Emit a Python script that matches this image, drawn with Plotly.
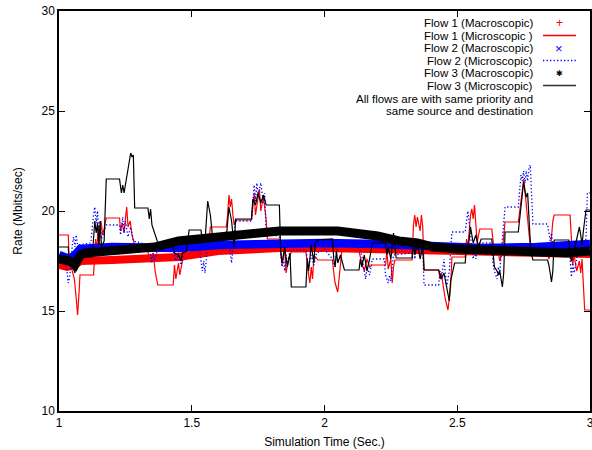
import plotly.graph_objects as go

# ---------------- data ----------------
# Macroscopic (smooth bands)
macro1_t = [1.0, 1.03, 1.06, 1.08, 1.2, 1.3, 1.45, 1.6, 1.72, 1.83, 2.0, 2.15, 2.3, 2.5, 2.7, 2.85, 3.0]
macro1_r = [17.3, 17.2, 17.3, 17.5, 17.55, 17.6, 17.7, 18.0, 18.1, 18.15, 18.15, 18.1, 18.05, 17.95, 17.9, 17.9, 17.85]

macro2_t = [1.0, 1.04, 1.06, 1.08, 1.2, 1.45, 1.6, 1.83, 2.0, 2.2, 2.4, 2.6, 2.8, 3.0]
macro2_r = [17.8, 17.6, 17.8, 18.1, 18.2, 18.15, 18.3, 18.4, 18.4, 18.35, 18.25, 18.15, 18.2, 18.35]

macro3_t = [1.0, 1.04, 1.06, 1.08, 1.1, 1.2, 1.3, 1.36, 1.45, 1.6, 1.7, 1.83, 1.95, 2.05,
            2.2, 2.28, 2.35, 2.41, 2.5, 2.66, 2.8, 2.91, 3.0]
macro3_r = [17.6, 17.5, 17.3, 17.8, 17.9, 18.0, 18.1, 18.2, 18.5, 18.7, 18.85, 19.0, 19.0, 19.0,
            18.75, 18.5, 18.4, 18.2, 18.1, 18.0, 17.95, 17.9, 18.0]

# Microscopic flow 1 (red)
micro1_t = [1.0, 1.035, 1.038, 1.05, 1.058, 1.065, 1.07, 1.075, 1.079, 1.13, 1.133, 1.138, 1.142, 1.148,
            1.152, 1.158, 1.165, 1.17, 1.178, 1.228, 1.232, 1.238, 1.245, 1.25, 1.255, 1.26, 1.268, 1.275,
            1.285, 1.3, 1.33, 1.345, 1.355, 1.362, 1.368, 1.372, 1.43, 1.435, 1.44, 1.45, 1.455, 1.465,
            1.475, 1.49, 1.55, 1.565, 1.57, 1.63, 1.635, 1.64, 1.645, 1.65, 1.655, 1.66, 1.665, 1.725,
            1.73, 1.735, 1.74, 1.75, 1.755, 1.76, 1.77, 1.78, 1.785, 1.83, 1.835, 1.84, 1.85, 1.855,
            1.865, 1.875, 1.93, 1.935, 1.94, 1.945, 1.95, 1.955, 1.96, 1.975, 2.03, 2.035, 2.04, 2.05,
            2.055, 2.06, 2.065, 2.1, 2.13, 2.14, 2.15, 2.16, 2.17, 2.18, 2.23, 2.235, 2.24, 2.25, 2.255,
            2.26, 2.265, 2.33, 2.335, 2.34, 2.345, 2.35, 2.36, 2.365, 2.37, 2.375, 2.43, 2.435, 2.44,
            2.45, 2.455, 2.465, 2.47, 2.475, 2.48, 2.53, 2.535, 2.54, 2.545, 2.55, 2.555, 2.56, 2.565,
            2.57, 2.575, 2.58, 2.585, 2.63, 2.635, 2.64, 2.65, 2.66, 2.67, 2.68, 2.73, 2.735, 2.74,
            2.745, 2.75, 2.755, 2.76, 2.765, 2.77, 2.775, 2.785, 2.84, 2.845, 2.85, 2.86, 2.865, 2.925,
            2.93, 2.935, 2.94, 2.95, 2.96, 2.965, 2.97, 2.975, 2.98, 3.0]
micro1_r = [18.8, 18.8, 17.6, 17.0, 16.6, 15.6, 14.8, 15.8, 16.8, 16.8, 17.8, 18.6, 18.0, 19.2,
            18.3, 19.5, 18.8, 19.2, 19.65, 19.65, 19.0, 19.4, 18.9, 19.6, 20.2, 19.2, 19.5, 18.8,
            18.3, 18.2, 18.1, 17.6, 17.9, 17.0, 16.6, 16.3, 16.3, 17.3, 16.6, 17.4, 16.8, 17.5,
            17.9, 18.2, 18.1, 18.5, 19.2, 19.2, 19.8, 20.8, 20.2, 20.6, 19.8, 19.3, 19.55, 19.55,
            20.2, 20.9, 19.8, 20.6, 21.1, 20.0, 20.7, 19.6, 18.6, 18.6, 17.8, 17.3, 18.1, 16.9,
            17.6, 17.95, 17.95, 17.3, 16.8, 16.4, 17.2, 16.6, 17.8, 17.55, 17.55, 16.9, 16.4, 15.95,
            16.6, 17.5, 18.0, 18.1, 18.0, 17.4, 17.0, 17.6, 17.2, 17.3, 17.3, 18.0, 17.1, 17.6, 16.4,
            17.2, 17.55, 17.55, 19.3, 19.8, 19.2, 19.7, 19.0, 19.8, 19.2, 17.05, 17.05, 16.6, 16.9,
            16.0, 15.6, 15.05, 15.5, 16.2, 17.7, 17.7, 18.6, 18.2, 19.0, 19.8, 20.1, 19.6, 20.3,
            19.2, 18.4, 18.8, 19.1, 19.1, 18.3, 17.9, 18.3, 17.5, 18.0, 19.45, 19.45, 20.1, 20.5,
            21.0, 21.6, 21.0, 20.2, 19.3, 18.9, 18.3, 18.1, 17.9, 17.6, 17.9, 19.5, 19.8, 19.8,
            18.6, 17.3, 17.8, 17.0, 17.5, 16.9, 17.6, 16.0, 15.05, 15.05]

# Microscopic flow 2 (blue dotted)
micro2_t = [1.0, 1.02, 1.03, 1.035, 1.04, 1.045, 1.05, 1.055, 1.06, 1.065, 1.07, 1.12, 1.13, 1.135,
            1.14, 1.145, 1.15, 1.155, 1.16, 1.17, 1.178, 1.228, 1.232, 1.24, 1.245, 1.25, 1.26, 1.27,
            1.28, 1.34, 1.345, 1.35, 1.355, 1.36, 1.37, 1.43, 1.44, 1.45, 1.46, 1.47, 1.49, 1.53,
            1.535, 1.54, 1.545, 1.55, 1.555, 1.56, 1.62, 1.63, 1.64, 1.645, 1.65, 1.655, 1.66, 1.665,
            1.725, 1.73, 1.735, 1.74, 1.745, 1.75, 1.76, 1.77, 1.775, 1.78, 1.83, 1.835, 1.84, 1.845,
            1.85, 1.855, 1.86, 1.87, 1.875, 1.93, 1.935, 1.94, 1.95, 1.96, 1.97, 2.0, 2.03, 2.04,
            2.045, 2.05, 2.13, 2.14, 2.15, 2.155, 2.16, 2.17, 2.18, 2.225, 2.23, 2.24, 2.245, 2.25,
            2.255, 2.26, 2.33, 2.335, 2.34, 2.35, 2.36, 2.37, 2.375, 2.43, 2.435, 2.44, 2.45, 2.46,
            2.47, 2.475, 2.48, 2.53, 2.535, 2.54, 2.545, 2.55, 2.555, 2.56, 2.565, 2.57, 2.58, 2.63,
            2.635, 2.64, 2.65, 2.655, 2.66, 2.665, 2.68, 2.73, 2.735, 2.74, 2.745, 2.75, 2.755, 2.76,
            2.765, 2.77, 2.775, 2.78, 2.785, 2.84, 2.845, 2.85, 2.855, 2.86, 2.87, 2.92, 2.925, 2.93,
            2.935, 2.94, 2.95, 2.96, 2.985, 2.99, 3.0]
micro2_r = [17.8, 17.7, 17.0, 16.4, 16.7, 17.2, 18.3, 18.7, 18.2, 18.8, 18.3, 18.4, 19.8, 20.2,
            19.4, 20.0, 18.8, 19.5, 18.6, 19.0, 19.3, 19.3, 18.8, 19.7, 18.9, 19.5, 18.7, 19.2,
            18.5, 18.3, 17.8, 17.4, 17.9, 17.5, 18.0, 18.1, 17.5, 17.9, 17.3, 18.0, 18.2, 18.1,
            17.5, 17.0, 17.5, 16.9, 17.6, 18.5, 18.6, 19.0, 18.4, 17.9, 17.4, 18.2, 18.8, 19.5,
            19.5, 20.6, 21.3, 20.5, 21.4, 20.8, 21.4, 20.4, 20.9, 19.0, 18.7, 18.0, 17.2, 17.6,
            17.0, 17.8, 17.3, 18.0, 18.05, 18.05, 17.6, 17.2, 17.8, 17.3, 17.9, 18.1, 17.6, 17.2,
            17.9, 18.2, 18.2, 17.8, 17.0, 16.6, 17.2, 16.8, 17.6, 17.6, 16.8, 16.4, 16.8, 16.5,
            17.2, 17.8, 17.9, 18.3, 17.6, 18.4, 17.8, 18.1, 16.3, 16.3, 17.0, 16.6, 17.6, 16.2,
            17.0, 18.0, 18.95, 18.95, 19.6, 20.0, 19.4, 18.9, 18.0, 17.6, 18.0, 17.6, 18.4, 18.4,
            17.4, 17.0, 16.6, 17.2, 16.8, 17.8, 20.2, 20.2, 21.0, 21.8, 21.5, 22.0, 21.4, 22.0,
            21.5, 22.1, 22.3, 21.0, 19.35, 19.35, 19.0, 18.5, 18.9, 18.3, 18.4, 18.2, 17.6, 16.7,
            17.4, 16.9, 17.6, 18.3, 18.6, 20.9, 20.9]

# Microscopic flow 3 (black)
micro3_t = [1.0, 1.035, 1.038, 1.05, 1.06, 1.065, 1.07, 1.125, 1.13, 1.135, 1.14, 1.145, 1.15, 1.155,
            1.16, 1.17, 1.178, 1.228, 1.235, 1.24, 1.245, 1.255, 1.265, 1.27, 1.275, 1.28, 1.285, 1.335,
            1.34, 1.345, 1.35, 1.36, 1.37, 1.38, 1.43, 1.435, 1.45, 1.46, 1.465, 1.48, 1.49, 1.535,
            1.54, 1.55, 1.56, 1.57, 1.58, 1.63, 1.64, 1.65, 1.66, 1.665, 1.725, 1.73, 1.74, 1.75,
            1.76, 1.77, 1.78, 1.83, 1.835, 1.84, 1.85, 1.86, 1.87, 1.875, 1.93, 1.935, 1.94, 1.95,
            1.96, 1.965, 1.975, 2.03, 2.035, 2.04, 2.045, 2.05, 2.06, 2.075, 2.13, 2.135, 2.14, 2.15,
            2.16, 2.17, 2.18, 2.23, 2.235, 2.24, 2.25, 2.26, 2.265, 2.27, 2.33, 2.335, 2.34, 2.35,
            2.36, 2.37, 2.375, 2.43, 2.44, 2.45, 2.46, 2.47, 2.475, 2.49, 2.53, 2.535, 2.54, 2.55,
            2.56, 2.57, 2.58, 2.59, 2.63, 2.635, 2.64, 2.65, 2.655, 2.66, 2.665, 2.67, 2.675, 2.68,
            2.73, 2.735, 2.74, 2.745, 2.75, 2.755, 2.76, 2.765, 2.77, 2.775, 2.78, 2.785, 2.84, 2.845,
            2.85, 2.855, 2.86, 2.865, 2.92, 2.925, 2.93, 2.94, 2.95, 2.955, 2.96, 2.965, 2.97, 2.975,
            2.985, 3.0]
micro3_r = [18.2, 18.2, 17.4, 17.3, 16.9, 17.5, 17.7, 17.7, 18.6, 19.5, 18.9, 19.4, 18.3, 19.5,
            18.2, 18.5, 21.6, 21.6, 20.9, 21.3, 20.9, 21.8, 22.6, 22.9, 22.7, 22.8, 20.15, 20.15,
            19.6, 20.1, 19.3, 18.9, 18.5, 18.3, 18.2, 17.9, 17.8, 17.5, 17.9, 18.0, 19.05, 19.05,
            18.4, 18.5, 20.5, 19.8, 18.5, 18.6, 20.2, 19.5, 18.2, 19.6, 19.6, 20.6, 20.3, 20.9,
            20.4, 20.8, 20.3, 20.3, 18.0, 17.4, 18.2, 17.2, 17.9, 16.2, 16.2, 17.6, 17.0, 18.3,
            17.4, 18.4, 18.55, 18.6, 17.6, 17.2, 18.0, 17.4, 17.8, 17.05, 17.05, 17.6, 17.2, 17.8,
            17.0, 17.6, 18.4, 18.4, 17.8, 18.2, 17.6, 18.9, 18.3, 17.65, 17.65, 18.6, 17.8, 18.4,
            17.6, 18.2, 17.05, 17.05, 16.6, 16.9, 16.2, 15.5, 16.5, 17.4, 17.4, 18.3, 18.0, 19.2,
            18.4, 18.8, 18.2, 18.6, 18.6, 17.8, 17.2, 17.0, 16.8, 17.0, 16.5, 16.2, 16.9, 18.95,
            18.95, 19.6, 20.4, 21.1, 21.45, 21.0, 20.7, 20.9, 19.6, 18.5, 17.8, 17.55, 17.55, 17.3,
            16.9, 16.45, 17.0, 18.55, 18.55, 17.8, 17.5, 18.0, 18.6, 18.9, 19.2, 18.8, 18.3, 19.0,
            20.05, 20.05]

x_ticks = [1, 1.5, 2, 2.5, 3]
x_tick_labels = ["1", "1.5", "2", "2.5", "3"]
y_ticks = [10, 15, 20, 25, 30]
y_tick_labels = ["10", "15", "20", "25", "30"]

legend_labels = ["Flow 1 (Macroscopic)", "Flow 1 (Microscopic )", "Flow 2 (Macroscopic)",
                 "Flow 2 (Microscopic)", "Flow 3 (Macroscopic)", "Flow 3 (Microscopic)"]
note_lines = ["All flows are with same priority and", "same source and destination"]

# ---------------- figure ----------------
RED, BLUE, BLACK = "#ff0000", "#0000ff", "#000000"
FONT = "Liberation Sans, Arial, Helvetica, sans-serif"
DOT = "1.3px,2.2px"

fig = go.Figure()
fig.add_trace(go.Scatter(x=macro1_t, y=macro1_r, mode="lines", line=dict(color=RED, width=8),
                         showlegend=False, hoverinfo="skip"))
fig.add_trace(go.Scatter(x=micro1_t, y=micro1_r, mode="lines", line=dict(color=RED, width=1.2),
                         showlegend=False))
fig.add_trace(go.Scatter(x=macro2_t, y=macro2_r, mode="lines", line=dict(color=BLUE, width=8.5),
                         showlegend=False, hoverinfo="skip"))
fig.add_trace(go.Scatter(x=micro2_t, y=micro2_r, mode="lines",
                         line=dict(color=BLUE, width=1.3, dash=DOT), showlegend=False))
fig.add_trace(go.Scatter(x=macro3_t, y=macro3_r, mode="lines", line=dict(color=BLACK, width=9),
                         showlegend=False, hoverinfo="skip"))
fig.add_trace(go.Scatter(x=micro3_t, y=micro3_r, mode="lines", line=dict(color=BLACK, width=1.2),
                         showlegend=False))

W, H = 592, 450
L, R, T, B = 59, 2, 11, 39
pw, ph = W - L - R, H - T - B


def px(xp):
    return (xp - L) / pw


def py(yp):
    return (H - B - yp) / ph


LEG_FS = 11.5
annotations = []
shapes = []
rows = [23, 35.5, 48, 60.5, 73, 85.5]
for lab, yr in zip(legend_labels, rows):
    annotations.append(dict(x=px(535), y=py(yr), xref="paper", yref="paper", text=lab,
                            showarrow=False, xanchor="right", yanchor="middle",
                            font=dict(size=LEG_FS, color="black", family=FONT)))
# legend samples
annotations.append(dict(x=px(559), y=py(rows[0]), xref="paper", yref="paper", text="+",
                        showarrow=False, xanchor="center", yanchor="middle",
                        font=dict(size=12, color=RED, family=FONT)))
annotations.append(dict(x=px(559), y=py(rows[2]), xref="paper", yref="paper", text="×",
                        showarrow=False, xanchor="center", yanchor="middle",
                        font=dict(size=13, color=BLUE, family=FONT)))
annotations.append(dict(x=px(559), y=py(rows[4] + 1), xref="paper", yref="paper", text="✱",
                        showarrow=False, xanchor="center", yanchor="middle",
                        font=dict(size=8, color=BLACK, family="DejaVu Sans")))
shapes.append(dict(type="line", xref="paper", yref="paper", x0=px(543), x1=px(576),
                   y0=py(rows[1]), y1=py(rows[1]), line=dict(color=RED, width=1.5)))
shapes.append(dict(type="line", xref="paper", yref="paper", x0=px(543), x1=px(576),
                   y0=py(rows[3]), y1=py(rows[3]), line=dict(color=BLUE, width=1.3, dash=DOT)))
shapes.append(dict(type="line", xref="paper", yref="paper", x0=px(543), x1=px(576),
                   y0=py(rows[5]), y1=py(rows[5]), line=dict(color="#333333", width=1.5)))
for t, yr in zip(note_lines, [98.5, 111]):
    annotations.append(dict(x=px(535), y=py(yr), xref="paper", yref="paper", text=t,
                            showarrow=False, xanchor="right", yanchor="middle",
                            font=dict(size=LEG_FS, color="black", family=FONT)))

fig.update_layout(
    width=W, height=H,
    margin=dict(l=L, r=R, t=T, b=B, pad=0, autoexpand=False),
    paper_bgcolor="white", plot_bgcolor="white",
    font=dict(family=FONT, size=12, color="black"),
    showlegend=False,
    annotations=annotations, shapes=shapes,
    xaxis=dict(range=[1, 3], tickvals=x_ticks, ticktext=x_tick_labels, ticks="inside",
               ticklen=6, tickcolor="black", showline=True, linecolor="black", linewidth=1.5,
               mirror="ticks", showgrid=False, zeroline=False, automargin=False,
               ticklabeloverflow="allow",
               title=dict(text="Simulation Time (Sec.)", standoff=8,
                          font=dict(size=12, family=FONT))),
    yaxis=dict(range=[10, 30], tickvals=y_ticks, ticktext=y_tick_labels, ticks="inside",
               ticklen=6, tickcolor="black", showline=True, linecolor="black", linewidth=1.5,
               mirror="ticks", showgrid=False, zeroline=False, automargin=False,
               ticklabeloverflow="allow",
               title=dict(text="Rate (Mbits/sec)", standoff=16,
                          font=dict(size=12, family=FONT))),
)

fig.write_html("out.html")
